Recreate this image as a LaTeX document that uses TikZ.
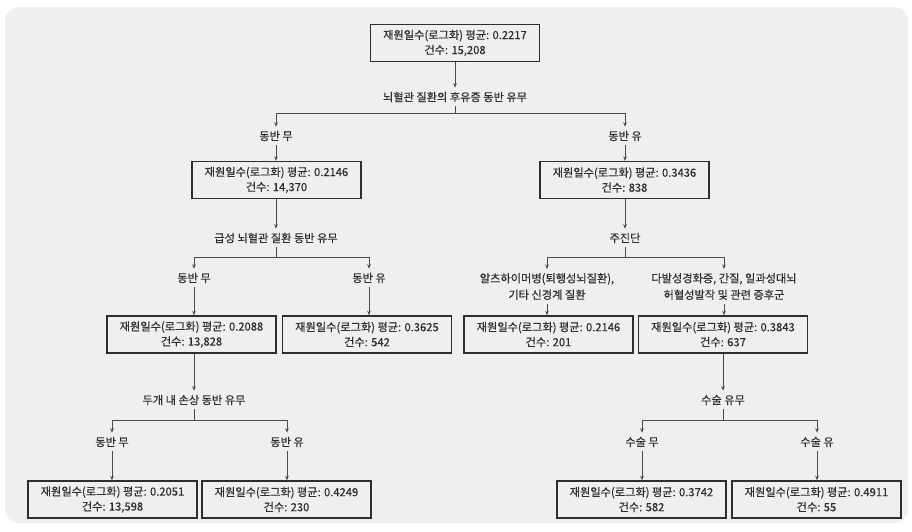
\documentclass[tikz,border=0pt]{standalone}
\usepackage{fontspec}
\setmainfont{Noto Sans CJK KR}[AutoFakeBold=0.4]
\usetikzlibrary{arrows.meta}
\definecolor{bg}{HTML}{EFEFEF}
\definecolor{ink}{HTML}{2E2E2E}
\definecolor{ln}{HTML}{4A4A4A}
\tikzset{
  box/.style={draw=ink, line width=1.4pt, fill=bg, minimum width=169pt, minimum height=37pt,
    inner sep=0pt, align=center, text=ink, font=\fontsize{11.2}{15}\selectfont\bfseries},
  lbl/.style={inner sep=4pt, align=center, text=ink, font=\fontsize{11.2}{16.5}\selectfont\bfseries},
  conn/.style={draw=ln, line width=0.9pt},
  arr/.style={conn, -{Stealth[length=4.5pt,width=3.6pt]}}
}
\begin{document}
\begin{tikzpicture}[x=1pt,y=-1pt]
\useasboundingbox (0,0) rectangle (912,531);
\fill[bg, rounded corners=14pt] (5,7) rectangle (908,523);

% root
\node[box] (root) at (455,43) {재원일수(로그화) 평균: 0.2217\\건수: 15,208};
\node[lbl] (q1) at (455,97) {뇌혈관 질환의 후유증 동반 유무};
\coordinate (f1) at (455,113);
\node[lbl] (l1) at (276,136) {동반 무};
\node[lbl] (r1) at (625,136) {동반 유};
\draw[arr] (root) -- (q1);
\draw[conn] (q1) -- (f1);
\draw[arr] (f1) -| (l1);
\draw[arr] (f1) -| (r1);

% level 2
\node[box] (bl) at (276.5,180) {재원일수(로그화) 평균: 0.2146\\건수: 14,370};
\node[box] (br) at (624.5,180) {재원일수(로그화) 평균: 0.3436\\건수: 838};
\draw[arr] (l1) -- (l1 |- bl.north);
\draw[arr] (r1) -- (r1 |- br.north);

\node[lbl] (q2) at (276,238) {급성 뇌혈관 질환 동반 유무};
\node[lbl] (q3) at (625,238) {주진단};
\draw[arr] (bl.south -| q2) -- (q2);
\draw[arr] (br.south -| q3) -- (q3);
\coordinate (f2) at (276,257);
\coordinate (f3) at (625,257);
\draw[conn] (q2) -- (f2);
\draw[conn] (q3) -- (f3);

\node[lbl] (ll) at (194,278) {동반 무};
\node[lbl] (lr) at (369,278) {동반 유};
\node[lbl] (rl) at (547,286.5) {알츠하이머병(퇴행성뇌질환),\\기타 신경계 질환};
\node[lbl] (rr) at (724,286.5) {다발성경화증, 간질, 일과성대뇌\\허혈성발작 및 관련 증후군};
\draw[arr] (f2) -| (ll);
\draw[arr] (f2) -| (lr);
\draw[arr] (f3) -| (rl);
\draw[arr] (f3) -| (rr);

% level 3
\node[box] (b3a) at (191.5,334.5) {재원일수(로그화) 평균: 0.2088\\건수: 13,828};
\node[box] (b3b) at (367,334.5) {재원일수(로그화) 평균: 0.3625\\건수: 542};
\node[box] (b3c) at (548.5,334.5) {재원일수(로그화) 평균: 0.2146\\건수: 201};
\node[box] (b3d) at (723,334.5) {재원일수(로그화) 평균: 0.3843\\건수: 637};
\draw[arr] (ll) -- (ll |- b3a.north);
\draw[arr] (lr) -- (lr |- b3b.north);
\draw[arr] (rl) -- (rl |- b3c.north);
\draw[arr] (rr) -- (rr |- b3d.north);

\node[lbl] (q4) at (194,400) {두개 내 손상 동반 유무};
\node[lbl] (q5) at (723,400) {수술 유무};
\draw[arr] (b3a.south -| q4) -- (q4);
\draw[arr] (b3d.south -| q5) -- (q5);
\coordinate (f4) at (194,420);
\coordinate (f5) at (723,420);
\draw[conn] (q4) -- (f4);
\draw[conn] (q5) -- (f5);

\node[lbl] (m1) at (112,442) {동반 무};
\node[lbl] (m2) at (287,442) {동반 유};
\node[lbl] (m3) at (642,442) {수술 무};
\node[lbl] (m4) at (817,442) {수술 유};
\draw[arr] (f4) -| (m1);
\draw[arr] (f4) -| (m2);
\draw[arr] (f5) -| (m3);
\draw[arr] (f5) -| (m4);

% level 4
\node[box] (b4a) at (112.5,499.5) {재원일수(로그화) 평균: 0.2051\\건수: 13,598};
\node[box] (b4b) at (286.5,499.5) {재원일수(로그화) 평균: 0.4249\\건수: 230};
\node[box] (b4c) at (641.5,499.5) {재원일수(로그화) 평균: 0.3742\\건수: 582};
\node[box] (b4d) at (816.5,499.5) {재원일수(로그화) 평균: 0.4911\\건수: 55};
\draw[arr] (m1) -- (m1 |- b4a.north);
\draw[arr] (m2) -- (m2 |- b4b.north);
\draw[arr] (m3) -- (m3 |- b4c.north);
\draw[arr] (m4) -- (m4 |- b4d.north);
\end{tikzpicture}
\end{document}
